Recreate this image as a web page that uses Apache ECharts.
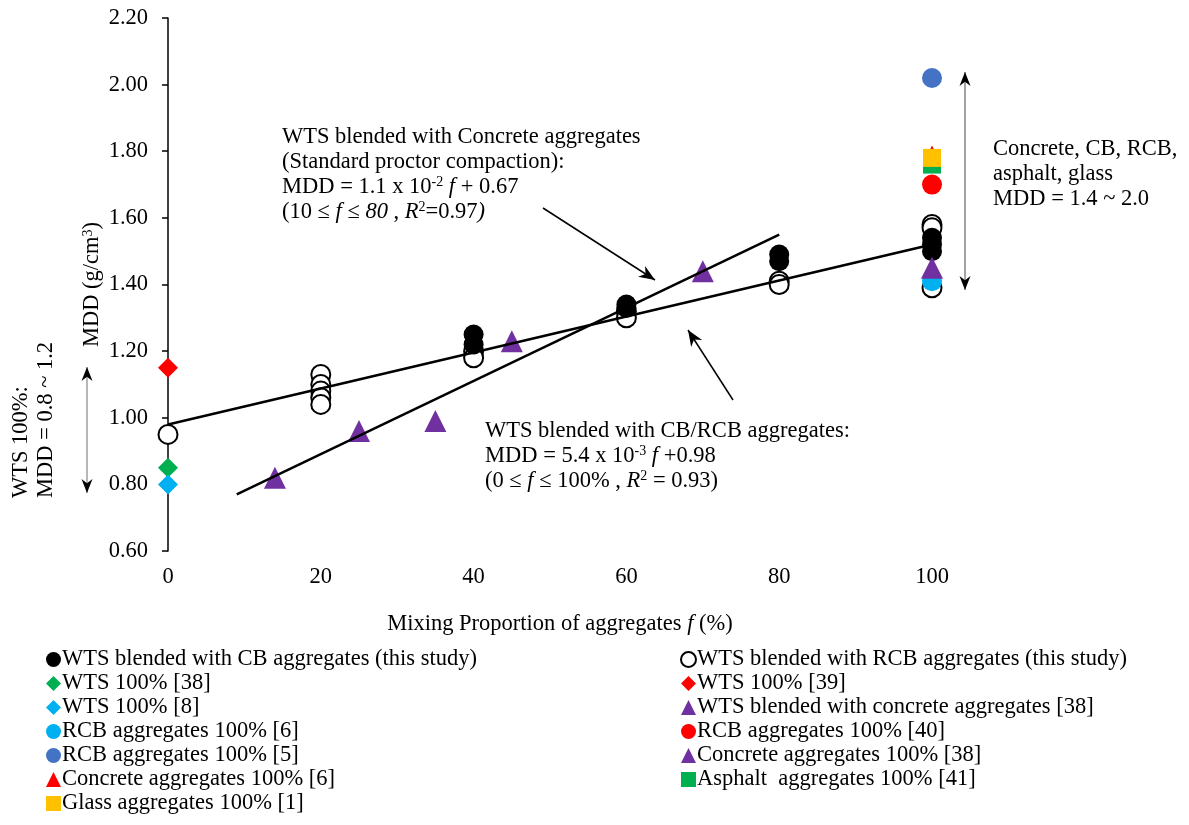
<!DOCTYPE html>
<html>
<head>
<meta charset="utf-8">
<script src="https://cdn.jsdelivr.net/npm/echarts@6/dist/echarts.min.js"></script>
<style>html,body{margin:0;padding:0;background:#fff;}#main{width:1189px;height:825px;}</style>
</head>
<body>
<div id="main"></div>
<script>
// ---- data: [mixing proportion f (%), MDD (g/cm3)] ----
const cbStudy = [[40,1.25],[40,1.22],[60,1.34],[60,1.33],[80,1.49],[80,1.47],[100,1.54],[100,1.52],[100,1.50]];
const rcbStudy = [[0,0.95],[20,1.13],[20,1.10],[20,1.08],[20,1.06],[20,1.04],[40,1.20],[40,1.18],[60,1.32],[60,1.30],[80,1.41],[80,1.40],[100,1.58],[100,1.57],[100,1.39]];
const wts38 = [[0,0.85]];
const wts39 = [[0,1.15]];
const wts8 = [[0,0.80]];
const wtsConcrete38 = [[14,0.82],[25,0.96],[35,0.99],[45,1.23],[70,1.44]];
const rcb6 = [[100,1.41]];
const rcb40 = [[100,1.70]];
const rcb5 = [[100,2.02]];
const concrete38 = [[100,1.45]];
const concrete6 = [[100,1.79]];
const asphalt41 = [[100,1.76]];
const glass1 = [[100,1.78]];
const fitCbRcb = [[0,0.98],[100,1.52]];
const fitConcrete = [[9,0.77],[80,1.55]];
const xTicks = [0,20,40,60,80,100];
const yTicks = [0.60,0.80,1.00,1.20,1.40,1.60,1.80,2.00,2.20];

const FONT = "'Liberation Serif','Times New Roman',serif";
const FS = 22.5;

const names = {
  cb: 'WTS blended with CB aggregates (this study)',
  rcb: 'WTS blended with RCB aggregates (this study)',
  w38: 'WTS 100% [38]',
  w39: 'WTS 100% [39]',
  w8: 'WTS 100% [8]',
  wc38: 'WTS blended with concrete aggregates [38]',
  r6: 'RCB aggregates 100% [6]',
  r40: 'RCB aggregates 100% [40]',
  r5: 'RCB aggregates 100% [5]',
  c38: 'Concrete aggregates 100% [38]',
  c6: 'Concrete aggregates 100% [6]',
  a41: 'Asphalt  aggregates 100% [41]',
  g1: 'Glass aggregates 100% [1]'
};

function sc(name, data, symbol, size, color, extra) {
  return Object.assign({
    name: name, type: 'scatter', data: data, symbol: symbol, symbolSize: size,
    itemStyle: { color: color, opacity: 1 }, z: 3
  }, extra || {});
}

const series = [
  sc(names.rcb, rcbStudy, 'circle', 19, '#ffffff', { itemStyle: { color: '#fff', borderColor: '#000', borderWidth: 2, opacity: 1 } }),
  sc(names.cb, cbStudy, 'circle', 20, '#000000'),
  sc(names.w38, wts38, 'diamond', 20, '#00B050'),
  sc(names.w39, wts39, 'diamond', 20, '#FF0000'),
  sc(names.w8, wts8, 'diamond', 20, '#00B0F0'),
  sc(names.wc38, wtsConcrete38, 'triangle', 22, '#7030A0'),
  sc(names.r6, rcb6, 'circle', 20, '#00B0F0'),
  sc(names.c38, concrete38, 'triangle', 22, '#7030A0'),
  sc(names.r40, rcb40, 'circle', 20, '#FF0000'),
  sc(names.r5, rcb5, 'circle', 20, '#4472C4'),
  sc(names.c6, concrete6, 'triangle', 18, '#FF0000'),
  sc(names.a41, asphalt41, 'rect', 18, '#00B050'),
  sc(names.g1, glass1, 'rect', 18, '#FFC000'),
  { name: 'fit1', type: 'line', data: fitCbRcb, symbol: 'none', lineStyle: { color: '#000', width: 2.5 }, z: 5, silent: true },
  { name: 'fit2', type: 'line', data: fitConcrete, symbol: 'none', lineStyle: { color: '#000', width: 2.5 }, z: 5, silent: true }
];

function legendCfg(left, data) {
  return {
    orient: 'vertical', left: left, top: 648, height: 175, padding: 0,
    itemWidth: 15, itemHeight: 15, itemGap: 1,
    selectedMode: false,
    textStyle: { fontFamily: FONT, fontSize: FS, color: '#000', lineHeight: 22, padding: [0,0,0,-4] },
    data: data
  };
}

// arrow helpers (annotation only)
function head(x, y, ang, len, wid, color) {
  const c = Math.cos(ang), s = Math.sin(ang);
  const bx = x - c * len, by = y - s * len;
  const nx = x - c * len * 0.7, ny = y - s * len * 0.7;
  return { type: 'polygon', silent: true, z: 20,
    shape: { points: [[x, y], [bx - s * wid / 2, by + c * wid / 2], [nx, ny], [bx + s * wid / 2, by - c * wid / 2]] },
    style: { fill: color } };
}
function arrow(x1, y1, x2, y2, opt) {
  const els = [{ type: 'line', silent: true, z: 20, shape: { x1: x1, y1: y1, x2: x2, y2: y2 }, style: { stroke: opt.color, lineWidth: opt.width } }];
  const a = Math.atan2(y2 - y1, x2 - x1);
  els.push(head(x2, y2, a, opt.len, opt.wid, opt.headColor || opt.color));
  if (opt.both) els.push(head(x1, y1, a + Math.PI, opt.len, opt.wid, opt.headColor || opt.color));
  return els;
}

const richBase = {
  sup: { fontFamily: FONT, fontSize: 14, verticalAlign: 'top', lineHeight: 25, padding: [0,0,9,0] },
  i: { fontFamily: FONT, fontSize: FS, fontStyle: 'italic', lineHeight: 25 },
  u: { fontFamily: FONT, fontSize: FS, lineHeight: 25 }
};
function txt(x, y, text, extra) {
  return Object.assign({ type: 'text', x: x, y: y, z: 30, silent: true,
    style: { text: text, fontFamily: FONT, fontSize: FS, fill: '#000', lineHeight: 25, rich: richBase, textVerticalAlign: 'top' } }, extra || {});
}

const graphics = [].concat(
  arrow(543, 208, 655, 280, { color: '#000', width: 1.5, len: 16, wid: 13 }),
  arrow(733, 400, 688, 330, { color: '#000', width: 1.5, len: 16, wid: 13 }),
  arrow(965, 72, 965, 290, { color: '#666', width: 1.2, len: 14, wid: 11, headColor: '#000', both: true }),
  arrow(87, 367, 87, 493, { color: '#888', width: 1.2, len: 14, wid: 11, headColor: '#000', both: true }),
  [
    txt(282, 125, 'WTS blended with Concrete aggregates\n(Standard proctor compaction):\nMDD = 1.1 x 10{sup|-2}{i| f} + 0.67\n(10 {u|≤}{i| f} {u|≤} {i|80} , {i|R}{sup|2}=0.97{i|)}'),
    txt(485, 419, 'WTS blended with CB/RCB aggregates:\nMDD = 5.4 x 10{sup|-3}{i| f} +0.98\n(0 {u|≤}{i| f} {u|≤} 100% , {i|R}{sup|2} = 0.93)'),
    txt(993, 137, 'Concrete, CB, RCB,\nasphalt, glass\nMDD = 1.4 ~ 2.0'),
    txt(9, 498, 'WTS 100%:\nMDD = 0.8 ~ 1.2', { rotation: Math.PI / 2 })
  ]
);

const chart = echarts.init(document.getElementById('main'), null, { renderer: 'canvas' });
chart.setOption({
  backgroundColor: '#fff',
  animation: false,
  grid: { left: 168, top: 18, right: 257, bottom: 274, containLabel: false },
  xAxis: {
    type: 'value', min: xTicks[0], max: xTicks[xTicks.length - 1], interval: 20,
    axisLine: { show: false }, axisTick: { show: false }, splitLine: { show: false },
    axisLabel: { fontFamily: FONT, fontSize: FS, color: '#000', margin: 15 },
    name: 'Mixing Proportion of aggregates {i|f} (%)', nameLocation: 'middle', nameGap: 62,
    nameTextStyle: { fontFamily: FONT, fontSize: FS, color: '#000', rich: { i: { fontFamily: FONT, fontSize: FS, fontStyle: 'italic', color: '#000' } }, padding: [0,0,0,20] }
  },
  yAxis: {
    type: 'value', min: yTicks[0], max: yTicks[yTicks.length - 1], interval: 0.2,
    axisLine: { show: true, lineStyle: { color: '#000', width: 1.5 } },
    axisTick: { show: true, inside: false, length: 6, lineStyle: { color: '#000', width: 1.5 } },
    splitLine: { show: false },
    axisLabel: { fontFamily: FONT, fontSize: FS, color: '#000', margin: 20, formatter: v => v.toFixed(2) },
    name: 'MDD (g/cm{sup|3})', nameLocation: 'middle', nameGap: 64, nameRotate: 90, nameMoveOverlap: false,
    nameTextStyle: { fontFamily: FONT, fontSize: FS, color: '#000', rich: { sup: { fontFamily: FONT, fontSize: 14, verticalAlign: 'top', padding: [0,0,9,0], color: '#000' } } }
  },
  legend: [
    legendCfg(46, [names.cb, names.w38, names.w8, names.r6, names.r5, names.c6, names.g1]),
    legendCfg(680, [names.rcb, names.w39, names.wc38, names.r40, names.c38, names.a41])
  ],
  series: series,
  graphic: graphics
});
</script>
</body>
</html>
